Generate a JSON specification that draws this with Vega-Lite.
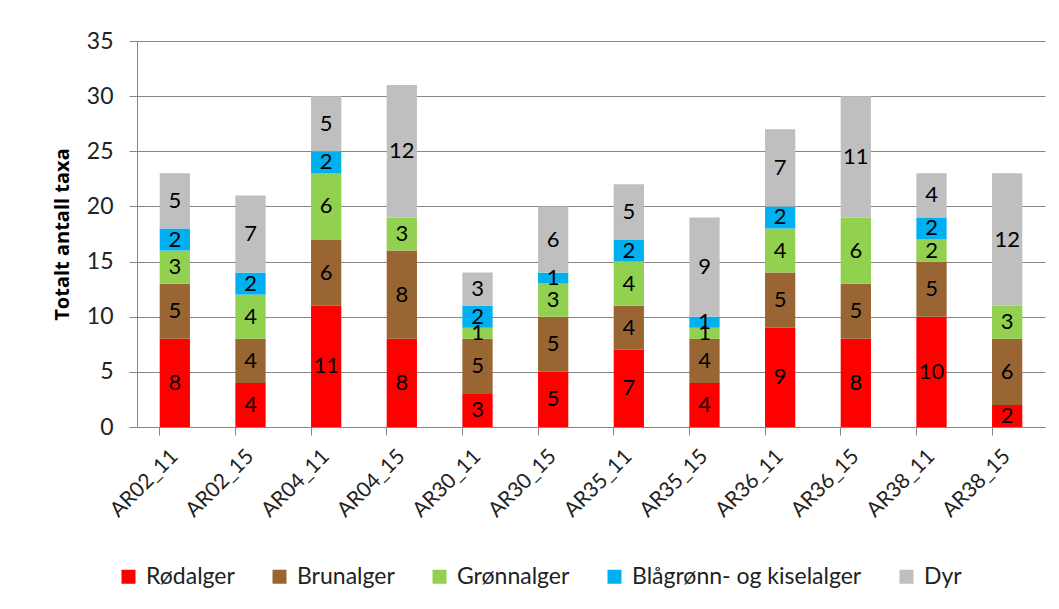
{
  "$schema": "https://vega.github.io/schema/vega-lite/v6.json",
  "width": 908,
  "height": 386,
  "autosize": {"type": "none"},
  "padding": {"left": 137, "top": 41, "right": 14, "bottom": 182},
  "background": "white",
  "config": {
    "font": "Lato",
    "view": {"stroke": null},
    "axis": {"labelFont": "Lato", "titleFont": "Lato", "labelColor": "#222222", "titleColor": "#000000"}
  },
  "data": {
    "values": [
      {"site": "AR02_11", "group": "Rødalger", "k": 1, "n": 8},
      {"site": "AR02_11", "group": "Brunalger", "k": 2, "n": 5},
      {"site": "AR02_11", "group": "Grønnalger", "k": 3, "n": 3},
      {"site": "AR02_11", "group": "Blågrønn- og kiselalger", "k": 4, "n": 2},
      {"site": "AR02_11", "group": "Dyr", "k": 5, "n": 5},
      {"site": "AR02_15", "group": "Rødalger", "k": 1, "n": 4},
      {"site": "AR02_15", "group": "Brunalger", "k": 2, "n": 4},
      {"site": "AR02_15", "group": "Grønnalger", "k": 3, "n": 4},
      {"site": "AR02_15", "group": "Blågrønn- og kiselalger", "k": 4, "n": 2},
      {"site": "AR02_15", "group": "Dyr", "k": 5, "n": 7},
      {"site": "AR04_11", "group": "Rødalger", "k": 1, "n": 11},
      {"site": "AR04_11", "group": "Brunalger", "k": 2, "n": 6},
      {"site": "AR04_11", "group": "Grønnalger", "k": 3, "n": 6},
      {"site": "AR04_11", "group": "Blågrønn- og kiselalger", "k": 4, "n": 2},
      {"site": "AR04_11", "group": "Dyr", "k": 5, "n": 5},
      {"site": "AR04_15", "group": "Rødalger", "k": 1, "n": 8},
      {"site": "AR04_15", "group": "Brunalger", "k": 2, "n": 8},
      {"site": "AR04_15", "group": "Grønnalger", "k": 3, "n": 3},
      {"site": "AR04_15", "group": "Blågrønn- og kiselalger", "k": 4, "n": 0},
      {"site": "AR04_15", "group": "Dyr", "k": 5, "n": 12},
      {"site": "AR30_11", "group": "Rødalger", "k": 1, "n": 3},
      {"site": "AR30_11", "group": "Brunalger", "k": 2, "n": 5},
      {"site": "AR30_11", "group": "Grønnalger", "k": 3, "n": 1},
      {"site": "AR30_11", "group": "Blågrønn- og kiselalger", "k": 4, "n": 2},
      {"site": "AR30_11", "group": "Dyr", "k": 5, "n": 3},
      {"site": "AR30_15", "group": "Rødalger", "k": 1, "n": 5},
      {"site": "AR30_15", "group": "Brunalger", "k": 2, "n": 5},
      {"site": "AR30_15", "group": "Grønnalger", "k": 3, "n": 3},
      {"site": "AR30_15", "group": "Blågrønn- og kiselalger", "k": 4, "n": 1},
      {"site": "AR30_15", "group": "Dyr", "k": 5, "n": 6},
      {"site": "AR35_11", "group": "Rødalger", "k": 1, "n": 7},
      {"site": "AR35_11", "group": "Brunalger", "k": 2, "n": 4},
      {"site": "AR35_11", "group": "Grønnalger", "k": 3, "n": 4},
      {"site": "AR35_11", "group": "Blågrønn- og kiselalger", "k": 4, "n": 2},
      {"site": "AR35_11", "group": "Dyr", "k": 5, "n": 5},
      {"site": "AR35_15", "group": "Rødalger", "k": 1, "n": 4},
      {"site": "AR35_15", "group": "Brunalger", "k": 2, "n": 4},
      {"site": "AR35_15", "group": "Grønnalger", "k": 3, "n": 1},
      {"site": "AR35_15", "group": "Blågrønn- og kiselalger", "k": 4, "n": 1},
      {"site": "AR35_15", "group": "Dyr", "k": 5, "n": 9},
      {"site": "AR36_11", "group": "Rødalger", "k": 1, "n": 9},
      {"site": "AR36_11", "group": "Brunalger", "k": 2, "n": 5},
      {"site": "AR36_11", "group": "Grønnalger", "k": 3, "n": 4},
      {"site": "AR36_11", "group": "Blågrønn- og kiselalger", "k": 4, "n": 2},
      {"site": "AR36_11", "group": "Dyr", "k": 5, "n": 7},
      {"site": "AR36_15", "group": "Rødalger", "k": 1, "n": 8},
      {"site": "AR36_15", "group": "Brunalger", "k": 2, "n": 5},
      {"site": "AR36_15", "group": "Grønnalger", "k": 3, "n": 6},
      {"site": "AR36_15", "group": "Blågrønn- og kiselalger", "k": 4, "n": 0},
      {"site": "AR36_15", "group": "Dyr", "k": 5, "n": 11},
      {"site": "AR38_11", "group": "Rødalger", "k": 1, "n": 10},
      {"site": "AR38_11", "group": "Brunalger", "k": 2, "n": 5},
      {"site": "AR38_11", "group": "Grønnalger", "k": 3, "n": 2},
      {"site": "AR38_11", "group": "Blågrønn- og kiselalger", "k": 4, "n": 2},
      {"site": "AR38_11", "group": "Dyr", "k": 5, "n": 4},
      {"site": "AR38_15", "group": "Rødalger", "k": 1, "n": 2},
      {"site": "AR38_15", "group": "Brunalger", "k": 2, "n": 6},
      {"site": "AR38_15", "group": "Grønnalger", "k": 3, "n": 3},
      {"site": "AR38_15", "group": "Blågrønn- og kiselalger", "k": 4, "n": 0},
      {"site": "AR38_15", "group": "Dyr", "k": 5, "n": 12}
    ]
  },
  "transform": [
    {"stack": "n", "groupby": ["site"], "sort": [{"field": "k", "order": "ascending"}], "as": ["y0", "y1"]},
    {"calculate": "(datum.y0 + datum.y1) / 2", "as": "ymid"}
  ],
  "encoding": {
    "x": {
      "field": "site", "type": "nominal", "sort": null,
      "scale": {"paddingInner": 0.6, "paddingOuter": 0.3},
      "axis": {
        "title": null, "labelAngle": -45, "labelAlign": "right", "labelBaseline": "middle",
        "labelFontSize": 21, "labelPadding": 18, "bandPosition": 0,
        "tickSize": 8, "tickColor": "#868686", "domainColor": "#868686", "grid": false
      }
    }
  },
  "layer": [
    {
      "mark": {"type": "bar"},
      "encoding": {
        "y": {
          "field": "y1", "type": "quantitative",
          "scale": {"domain": [0, 35], "nice": false},
          "axis": {
            "title": "Totalt antall taxa", "titleFont": "Open Sans", "titleFontSize": 20, "titleFontWeight": "bold", "titlePadding": 14,
            "values": [0, 5, 10, 15, 20, 25, 30, 35], "labelFontSize": 23, "labelPadding": 16,
            "tickSize": 8, "tickColor": "#868686", "domainColor": "#868686",
            "grid": true, "gridColor": "#868686", "gridWidth": 1
          }
        },
        "y2": {"field": "y0"},
        "color": {
          "field": "group", "type": "nominal",
          "scale": {
            "domain": ["Rødalger", "Brunalger", "Grønnalger", "Blågrønn- og kiselalger", "Dyr"],
            "range": ["#FF0000", "#996633", "#92D050", "#00B0F0", "#BFBFBF"]
          },
          "legend": {
            "title": null, "orient": "none", "direction": "horizontal", "columns": 5,
            "legendX": -20, "legendY": 524, "symbolType": "square", "symbolSize": 196,
            "symbolStrokeWidth": 0, "labelFontSize": 23, "labelColor": "#222222", "labelFont": "Lato",
            "columnPadding": 33, "labelOffset": 6, "labelLimit": 400
          }
        }
      }
    },
    {
      "transform": [{"filter": "datum.n > 0"}],
      "mark": {"type": "text", "fontSize": 22, "color": "#000000", "baseline": "middle", "align": "center"},
      "encoding": {
        "y": {"field": "ymid", "type": "quantitative"},
        "text": {"field": "n", "type": "quantitative"}
      }
    }
  ]
}
